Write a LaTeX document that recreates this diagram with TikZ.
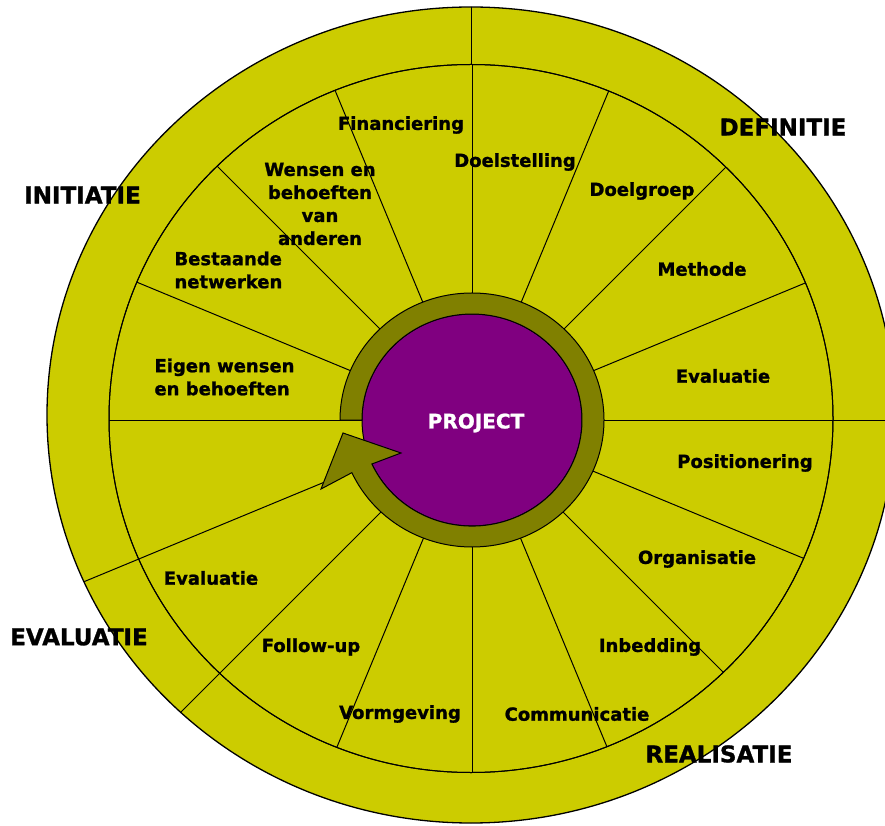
\documentclass[tikz,border=0pt]{standalone}
\usepackage{fontspec}
\usepackage{tikz}
\newfontfamily\wheelfont{DejaVu Sans}[BoldFeatures={FakeBold=1.2}]
\definecolor{ringyellow}{RGB}{204,204,0}
\definecolor{arrowolive}{RGB}{128,128,0}
\definecolor{projpurple}{RGB}{128,0,128}

\begin{document}
\begin{tikzpicture}[x=1pt,y=1pt,line width=1pt]\tikzstyle{every node}+=[inner sep=0pt]
	  \tikzstyle{seglabel}=[font={\wheelfont\bfseries\fontsize{18}{23}\selectfont}, align=center]
	  \tikzstyle{phaselabel}=[font={\wheelfont\bfseries\fontsize{23}{28}\selectfont}]
	  \useasboundingbox (0,0) rectangle (885,825);
	  % outer ring with the phase borders
	  \fill [ringyellow] (471,410) ellipse [x radius=424, y radius=408];
	  \begin{scope}
	    \clip (471,410) ellipse [x radius=424, y radius=408];
	    \draw [black] (471,404) -- (471,830);
	    \draw [black] (472,404) -- (900,404);
	    \draw [black] (472,404) -- ++(202.5:500);
	    \draw [black] (472,404) -- ++(225:500);
	  \end{scope}
	  \draw [black, line width=1.3pt] (471,410) ellipse [x radius=424, y radius=408];
	  % inner ring with the sixteen segments
	  \draw [black, fill=ringyellow] (471,406.5) ellipse [x radius=362, y radius=354];
	  \begin{scope}
	    \clip (471,406.5) ellipse [x radius=362, y radius=354];
	    \foreach \a in {0,22.5,...,337.5}
	      \draw [black] (472,404) -- ++(\a:400);
	  \end{scope}
	  \draw [black] (471,406.5) ellipse [x radius=362, y radius=354];
	  % centre and cycle arrow
	  \draw [black, fill=projpurple] (472,405) ellipse [x radius=110, y radius=106];
	  \draw [black, fill=arrowolive] (340,405) arc [start angle=180, end angle=-155.5, x radius=132, y radius=127]
	    -- (321,336) -- (343,392) -- (401,372) -- (371.9,361)
	    arc [start angle=-155.5, end angle=180, x radius=110, y radius=106] -- cycle;
	  \node [seglabel, text=white, font={\wheelfont\bfseries\fontsize{20}{24}\selectfont}] (project) at (476,402) {PROJECT};
	  % segment labels
	  \node [seglabel] (financiering) at (401,700) {Financiering};
	  \node [seglabel] (doelstelling) at (515,663) {Doelstelling};
	  \node [seglabel] (doelgroep) at (642,634) {Doelgroep};
	  \node [seglabel] (methode) at (702,556) {Methode};
	  \node [seglabel] (evaluatieR) at (723,449) {Evaluatie};
	  \node [seglabel] (positionering) at (745,362) {Positionering};
	  \node [seglabel] (organisatie) at (697,266) {Organisatie};
	  \node [seglabel] (inbedding) at (650,178) {Inbedding};
	  \node [seglabel] (communicatie) at (577,111) {Communicatie};
	  \node [seglabel] (vormgeving) at (400,111) {Vormgeving};
	  \node [seglabel] (followup) at (311,178) {Follow-up};
	  \node [seglabel] (evaluatieL) at (211,247) {Evaluatie};
	  \node [seglabel, align=left, anchor=west] (eigen) at (154,448) {Eigen wensen\\en behoeften};
	  \node [seglabel, align=left, anchor=west] (bestaande) at (174,555) {Bestaande\\netwerken};
	  \node [seglabel] (anderen) at (320,621) {Wensen en\\behoeften\\van\\anderen};
	  % phase labels
	  \node [phaselabel] (initiatie) at (82.5,630) {INITIATIE};
	  \node [phaselabel] (definitie) at (783,698) {DEFINITIE};
	  \node [phaselabel] (evaluatie) at (79,188) {EVALUATIE};
	  \node [phaselabel] (realisatie) at (719,71) {REALISATIE};
	\end{tikzpicture}
\end{document}
